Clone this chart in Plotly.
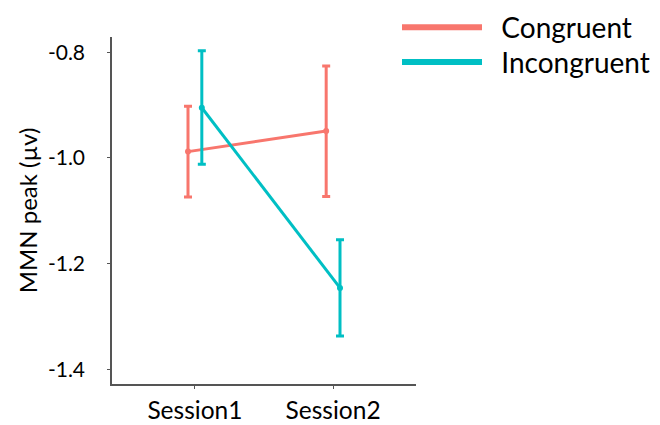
import plotly.graph_objects as go

sessions = ["Session1", "Session2"]
groups = ["Congruent", "Incongruent"]
colors = ["#F8766D", "#00BFC4"]
means = {
    "Congruent": [-0.988, -0.949],
    "Incongruent": [-0.905, -1.246],
}
upper = {
    "Congruent": [-0.902, -0.826],
    "Incongruent": [-0.797, -1.155],
}
lower = {
    "Congruent": [-1.074, -1.073],
    "Incongruent": [-1.012, -1.337],
}
dodge = [-0.05, 0.05]
y_ticks = [-0.8, -1.0, -1.2, -1.4]
y_tick_text = ["-0.8", "-1.0", "-1.2", "-1.4"]

FONT = "Lato"
fig = go.Figure()
for gi, g in enumerate(groups):
    xs = [i + 1 + dodge[gi] for i in range(len(sessions))]
    m = means[g]
    fig.add_trace(go.Scatter(
        x=xs, y=m, mode="lines+markers",
        line=dict(color=colors[gi], width=3),
        marker=dict(color=colors[gi], size=6),
        error_y=dict(type="data", symmetric=False,
                     array=[u - v for u, v in zip(upper[g], m)],
                     arrayminus=[v - l for v, l in zip(m, lower[g])],
                     color=colors[gi], thickness=3, width=4),
        showlegend=False, name=g,
    ))
legend_ids = ["legend", "legend2"]
for gi, g in enumerate(groups):
    fig.add_trace(go.Scatter(
        x=[None], y=[None], mode="lines", name="\u00a0\u00a0" + g,
        legend=legend_ids[gi],
        line=dict(color=colors[gi], width=6),
    ))

leg_common = dict(x=0.9375, xanchor="left", yanchor="top",
                  xref="paper", yref="paper",
                  font=dict(size=28, family=FONT), itemwidth=80,
                  bgcolor="rgba(0,0,0,0)")

fig.update_layout(
    width=660, height=425,
    margin=dict(l=112, r=244, t=37, b=41, autoexpand=False),
    paper_bgcolor="white", plot_bgcolor="white",
    font=dict(family=FONT, size=21, color="black"),
    showlegend=True,
    legend=dict(y=1.099, **leg_common),
    legend2=dict(y=0.999, **leg_common),
    xaxis=dict(range=[0.4, 2.6], tickvals=[1, 2], ticktext=sessions,
               showgrid=False, zeroline=False, showline=True,
               linecolor="#555555", linewidth=1.5,
               ticks="outside", ticklen=3, tickcolor="#555555",
               ticklabelstandoff=1, tickfont=dict(size=24.5)),
    yaxis=dict(range=[-1.428, -0.771], tickvals=y_ticks, ticktext=y_tick_text,
               showgrid=False, zeroline=False, showline=True,
               linecolor="#555555", linewidth=1.5,
               ticks="outside", ticklen=3, tickcolor="#555555",
               ticklabelstandoff=18, tickfont=dict(size=21),
               title=dict(text="MMN peak (µv)", font=dict(size=24), standoff=4)),
)

fig.write_html(
    "out.html",
    config={"displayModeBar": False},
    post_script="document.body.style.margin='0';document.body.style.padding='0';",
)
